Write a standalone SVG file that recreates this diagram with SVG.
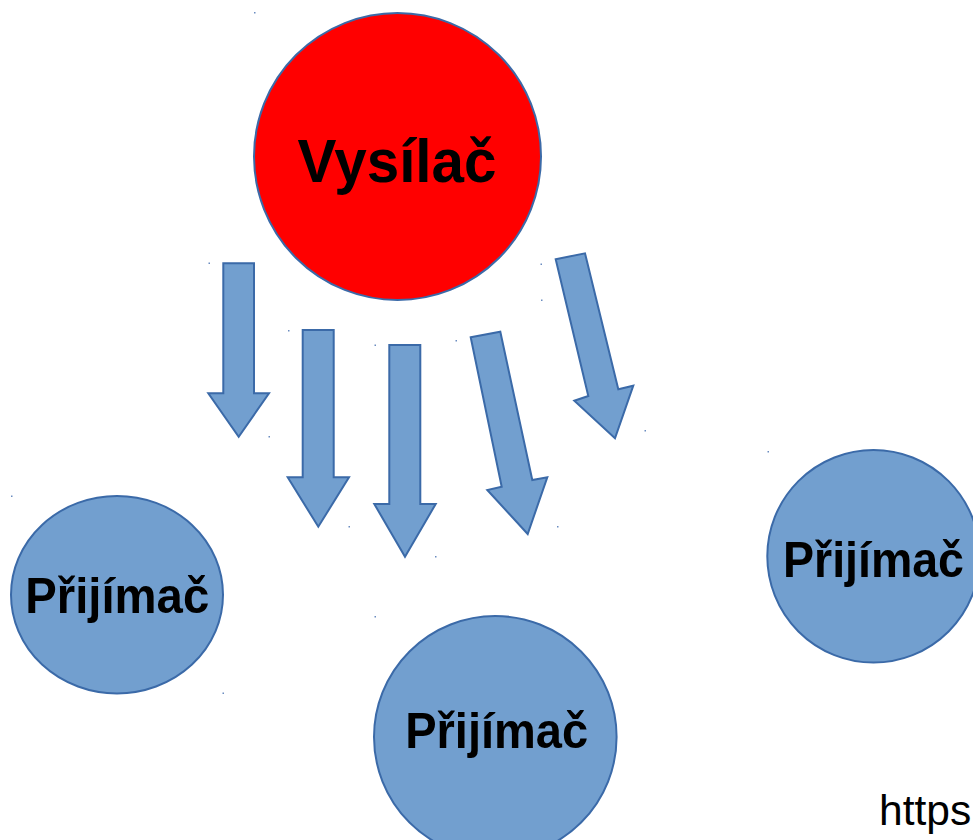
<svg xmlns="http://www.w3.org/2000/svg" width="973" height="840" viewBox="0 0 973 840">
<style>
.bg{fill:#ffffff}
.tx{fill:#729FCF;stroke:#3B6AA8;stroke-width:2}
.rx{fill:#FF0000;stroke:#3B6AA8;stroke-width:2}
.arr{fill:#729FCF;stroke:#3B6AA8;stroke-width:2;stroke-linejoin:miter}
.lbl{font-family:"Liberation Sans",Arial,sans-serif;font-weight:bold;fill:#000000;text-anchor:middle}
.url{font-family:"Liberation Sans",Arial,sans-serif;fill:#000000;font-size:42.5px}
.dot{fill:#6A8CC0}
</style>
<rect class="bg" x="0" y="0" width="973" height="840"/>
<g id="connectors">
<polygon class="arr" points="223.3,263.3 254,263.3 254,393.3 269,393.3 238.7,436.7 208.3,393.3 223.3,393.3"/>
<polygon class="arr" points="302.7,330 333.7,330 333.7,477.3 349,477.3 318.3,526.7 287.7,477.3 302.7,477.3"/>
<polygon class="arr" points="389.3,345 420.3,345 420.3,504 435.7,504 405,556.7 374.3,504 389.3,504"/>
<polygon class="arr" points="470.7,337.3 500.3,331.7 532.3,480 547.3,477.3 527.7,534 487.3,490 501.7,486.7"/>
<polygon class="arr" points="555.7,259.3 585,253.3 618.3,389.3 633.3,385.7 615,438.3 574.3,400.7 588.3,396"/>
</g>
<g id="handles">
<rect class="dot" x="208.5" y="262.5" width="1.5" height="1.5"/>
<rect class="dot" x="268.5" y="436" width="1.5" height="1.5"/>
<rect class="dot" x="288" y="330" width="1.5" height="1.5"/>
<rect class="dot" x="348.5" y="526" width="1.5" height="1.5"/>
<rect class="dot" x="374.5" y="344.5" width="1.5" height="1.5"/>
<rect class="dot" x="435" y="556" width="1.5" height="1.5"/>
<rect class="dot" x="455.5" y="340" width="1.5" height="1.5"/>
<rect class="dot" x="557" y="526" width="1.5" height="1.5"/>
<rect class="dot" x="540.5" y="263.5" width="1.5" height="1.5"/>
<rect class="dot" x="541" y="299.5" width="1.5" height="1.5"/>
<rect class="dot" x="644.5" y="430" width="1.5" height="1.5"/>
<rect class="dot" x="254" y="12" width="1.5" height="1.5"/>
<rect class="dot" x="11" y="495.5" width="1.5" height="1.5"/>
<rect class="dot" x="222.5" y="692.5" width="1.5" height="1.5"/>
<rect class="dot" x="374.5" y="616" width="1.5" height="1.5"/>
<rect class="dot" x="767.5" y="451" width="1.5" height="1.5"/>
</g>
<g id="vysilac">
<ellipse class="rx" cx="397.5" cy="156.5" rx="143.5" ry="143.5"/>
<text class="lbl" x="397" y="181.7" font-size="62" textLength="199" lengthAdjust="spacingAndGlyphs">Vysílač</text>
</g>
<g id="prijimac-left">
<ellipse class="tx" cx="117" cy="594.7" rx="106" ry="98.7"/>
<text class="lbl" x="117.2" y="613.3" font-size="50" textLength="184" lengthAdjust="spacingAndGlyphs">Přijímač</text>
</g>
<g id="prijimac-bottom">
<ellipse class="tx" cx="495.3" cy="737" rx="121.3" ry="121"/>
<text class="lbl" x="496.7" y="748.3" font-size="50" textLength="183" lengthAdjust="spacingAndGlyphs">Přijímač</text>
</g>
<g id="prijimac-right">
<ellipse class="tx" cx="873.5" cy="556.3" rx="106.2" ry="106.3"/>
<text class="lbl" x="873.5" y="576.7" font-size="50" textLength="181" lengthAdjust="spacingAndGlyphs">Přijímač</text>
</g>
<text class="url" x="879" y="825">https</text>
</svg>
